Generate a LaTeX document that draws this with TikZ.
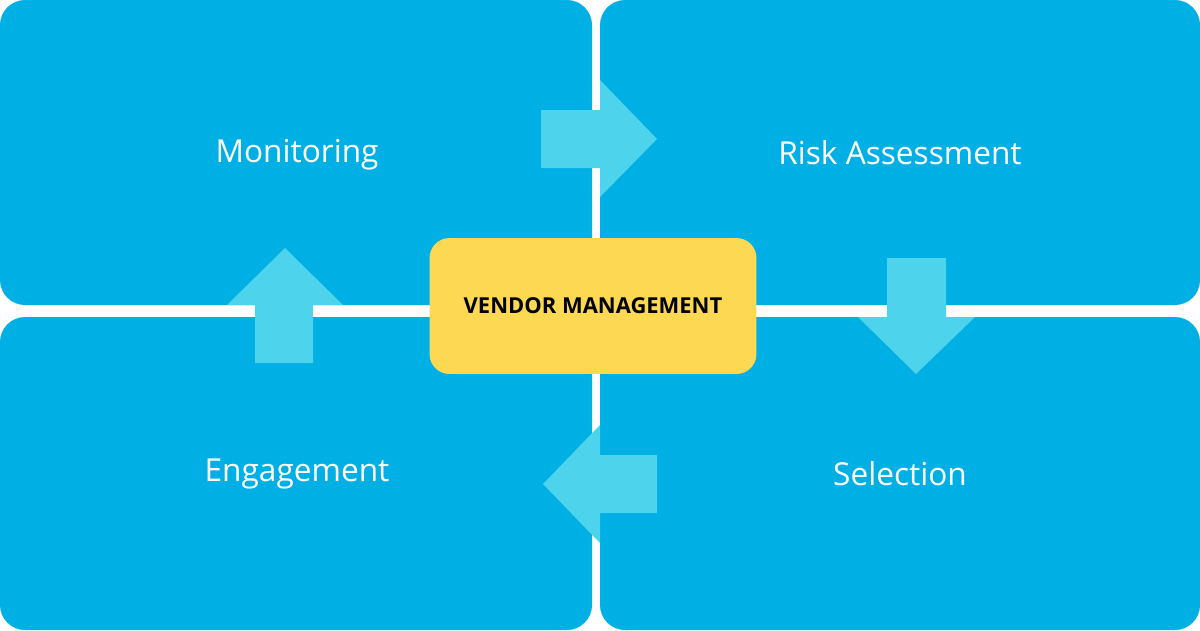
\documentclass[tikz,border=0pt]{standalone}
\usepackage{fontspec}
\setmainfont{Open Sans}
\usepackage{tikz}
\usetikzlibrary{positioning}
\definecolor{quadblue}{HTML}{00B0E4}
\definecolor{arrowcyan}{HTML}{4DD3EC}
\definecolor{coreyellow}{HTML}{FDD853}

\begin{document}
\begin{tikzpicture}[
    x=0.02cm, y=-0.02cm,
    quadbox/.style={fill=quadblue, rounded corners=0.5cm},
    stagetext/.style={text=white, font=\fontsize{18}{22}\selectfont},
    corebox/.style={fill=coreyellow, rounded corners=0.4cm, minimum width=6.54cm, minimum height=2.72cm, font=\fontsize{12.5}{15}\selectfont\bfseries},
    flowarrow/.style={fill=arrowcyan}
]
\useasboundingbox (0,0) rectangle (1200,630);

% Quadrants
\fill[quadbox] (0,0) rectangle (592,305);
\fill[quadbox] (600,0) rectangle (1200,305);
\fill[quadbox] (0,317) rectangle (592,630);
\fill[quadbox] (600,317) rectangle (1200,630);

% Stage labels
\node[stagetext] (monitor) at (297,155) {Monitoring};
\node[stagetext] (risk) at (900,153) {Risk Assessment};
\node[stagetext] (engage) at (297,474) {Engagement};
\node[stagetext] (select) at (900,474) {Selection};

% Arrows
\fill[flowarrow] (541,110) -- (600,110) -- (600,80) -- (657,139) -- (600,197) -- (600,168) -- (541,168) -- cycle;
\fill[flowarrow] (887,258) -- (946,258) -- (946,317) -- (975,317) -- (916,374) -- (858,317) -- (887,317) -- cycle;
\fill[flowarrow] (657,455) -- (657,513) -- (600,513) -- (600,543) -- (543,484) -- (600,425) -- (600,455) -- cycle;
\fill[flowarrow] (255,363) -- (255,305) -- (227,305) -- (285,248) -- (343,305) -- (313,305) -- (313,363) -- cycle;

% Core
\node[corebox] (core) at (593,306) {VENDOR MANAGEMENT};

\end{tikzpicture}
\end{document}
